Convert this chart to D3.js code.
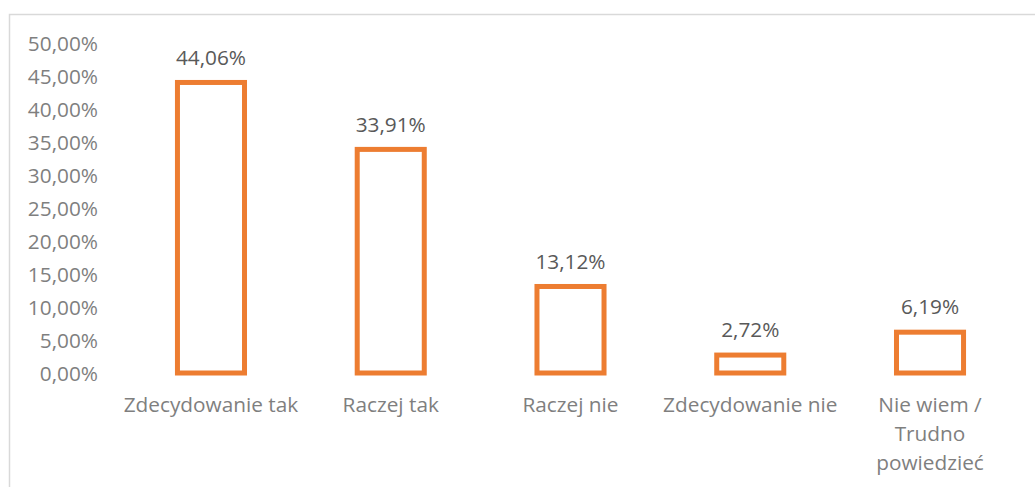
<!DOCTYPE html>
<html><head><meta charset="utf-8">
<script src="https://cdn.jsdelivr.net/npm/d3@7"></script>
<style>html,body{margin:0;padding:0;background:#fff;}svg{display:block;}</style>
</head><body>
<svg id="chart" width="1035" height="487"></svg>
<script>
const categories = ["Zdecydowanie tak", "Raczej tak", "Raczej nie", "Zdecydowanie nie", "Nie wiem /\nTrudno\npowiedzieć"];
const values = [44.06, 33.91, 13.12, 2.72, 6.19];
const valueLabels = ["44,06%", "33,91%", "13,12%", "2,72%", "6,19%"];
const yTicks = [0, 5, 10, 15, 20, 25, 30, 35, 40, 45, 50];

const W = 1035, H = 487;
const FONT = "'Open Sans', sans-serif";
const FS = 20.8;
const svg = d3.select("#chart");

// chart border
svg.append("rect").attr("x", 9.5).attr("y", 14.5).attr("width", W + 20).attr("height", H + 20)
  .attr("fill", "none").attr("stroke", "#d9d9d9").attr("stroke-width", 1.5);

const x = d3.scaleBand().domain(categories).range([121.1, 1019.9]).paddingInner(0.627).paddingOuter(0.3135);
const y = d3.scaleLinear().domain([0, 50]).range([373, 43.3]);

const fmt = v => d3.format(".2f")(v).replace(".", ",") + "%";

// y axis labels
const yAxis = d3.axisLeft(y).tickValues(yTicks).tickFormat(fmt).tickSize(0).tickPadding(0);
const ga = svg.append("g").attr("transform", "translate(98,0)").call(yAxis);
ga.select(".domain").remove();
ga.selectAll("text").attr("font-family", FONT).attr("font-size", FS).attr("fill", "#7f7f7f").attr("dy", "0.35em");

// bars
svg.append("g").selectAll("rect").data(values).join("rect")
  .attr("x", (d, i) => x(categories[i]))
  .attr("y", d => y(d))
  .attr("width", x.bandwidth())
  .attr("height", d => y(0) - y(d))
  .attr("fill", "#fff").attr("stroke", "#ED7D31").attr("stroke-width", 5);

// value labels
svg.append("g").selectAll("text").data(values).join("text")
  .attr("x", (d, i) => x(categories[i]) + x.bandwidth() / 2)
  .attr("y", d => y(d) - 25)
  .attr("dy", "0.35em")
  .attr("text-anchor", "middle")
  .attr("font-family", FONT).attr("font-size", FS).attr("fill", "#595959")
  .text((d, i) => valueLabels[i]);

// category labels
const cg = svg.append("g");
categories.forEach(c => {
  const lines = c.split("\n");
  const t = cg.append("text").attr("text-anchor", "middle")
    .attr("font-family", FONT).attr("font-size", FS).attr("fill", "#7f7f7f");
  lines.forEach((ln, j) => {
    t.append("tspan").attr("x", x(c) + x.bandwidth() / 2).attr("y", 405 + j * 29).attr("dy", "0.35em").text(ln);
  });
});
</script>
</body></html>
